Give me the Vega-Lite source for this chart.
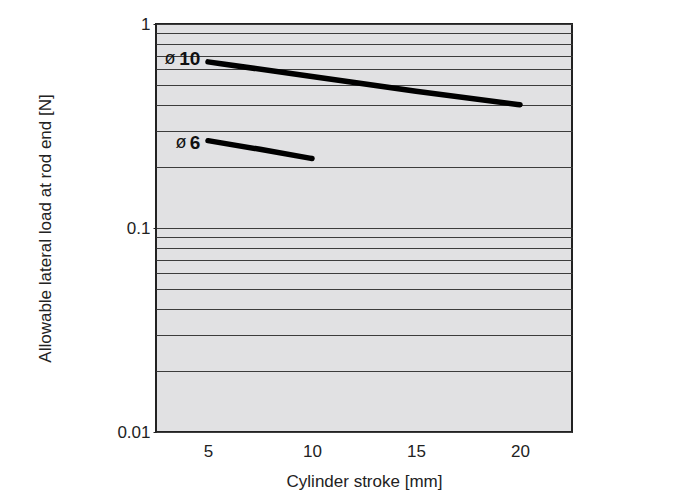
{
  "$schema": "https://vega.github.io/schema/vega-lite/v6.json",
  "autosize": "none",
  "width": 416,
  "height": 408,
  "padding": {"left": 156, "top": 24, "right": 104, "bottom": 62},
  "background": "white",
  "config": {
    "view": {"fill": "#e1e1e3", "stroke": "#222222", "strokeWidth": 2},
    "font": "Liberation Sans",
    "axis": {
      "labelFont": "Liberation Sans",
      "titleFont": "Liberation Sans",
      "labelFontSize": 17,
      "titleFontSize": 17,
      "titleFontWeight": "normal",
      "labelColor": "#222222",
      "titleColor": "#222222"
    }
  },
  "datasets": {
    "curves": [
      {"series": "ø10", "stroke": 5, "load": 0.652},
      {"series": "ø10", "stroke": 10, "load": 0.553},
      {"series": "ø10", "stroke": 15, "load": 0.468},
      {"series": "ø10", "stroke": 20, "load": 0.402},
      {"series": "ø6", "stroke": 5, "load": 0.268},
      {"series": "ø6", "stroke": 7.5, "load": 0.243},
      {"series": "ø6", "stroke": 10, "load": 0.219}
    ],
    "labels": [
      {"series": "ø10", "sym": "ø", "num": "10", "stroke": 5, "load": 0.674},
      {"series": "ø6", "sym": "ø", "num": "6", "stroke": 5, "load": 0.261}
    ]
  },
  "layer": [
    {
      "data": {"name": "curves"},
      "mark": {"type": "line", "color": "black", "strokeWidth": 5.5, "strokeCap": "round", "interpolate": "monotone"},
      "encoding": {
        "x": {
          "field": "stroke", "type": "quantitative",
          "scale": {"domain": [2.5, 22.5], "nice": false, "zero": false},
          "axis": {
            "title": "Cylinder stroke [mm]",
            "values": [5, 10, 15, 20],
            "grid": false, "ticks": false, "domain": false,
            "labelPadding": 11, "titlePadding": 14
          }
        },
        "y": {
          "field": "load", "type": "quantitative",
          "scale": {"type": "log", "domain": [0.01, 1], "nice": false},
          "axis": {
            "title": "Allowable lateral load at rod end [N]",
            "values": [0.01, 0.02, 0.03, 0.04, 0.05, 0.06, 0.07, 0.08, 0.09, 0.1, 0.2, 0.3, 0.4, 0.5, 0.6, 0.7, 0.8, 0.9, 1],
            "grid": true, "gridColor": "#3c3c3c", "gridWidth": 1.2,
            "domain": false,
            "tickSize": 3, "tickColor": "#222222",
            "tickOpacity": {"condition": {"test": "datum.value == 1 || datum.value == 0.1 || datum.value == 0.01", "value": 1}, "value": 0},
            "labelExpr": "datum.value == 1 ? '1' : datum.value == 0.1 ? '0.1' : datum.value == 0.01 ? '0.01' : ''",
            "labelOverlap": false,
            "labelPadding": 3,
            "titlePadding": 62
          }
        },
        "detail": {"field": "series"}
      }
    },
    {
      "data": {"name": "labels"},
      "mark": {"type": "text", "font": "Liberation Sans", "fontSize": 19, "fontWeight": "bold", "align": "right", "baseline": "middle", "dx": -7.7, "color": "#111111"},
      "encoding": {
        "x": {"field": "stroke", "type": "quantitative"},
        "y": {"field": "load", "type": "quantitative"},
        "text": {"field": "num"}
      }
    },
    {
      "data": {"name": "labels"},
      "transform": [{"filter": "datum.series == 'ø10'"}],
      "mark": {"type": "text", "font": "Liberation Sans", "fontSize": 18, "align": "right", "baseline": "middle", "dx": -32.5, "color": "#111111"},
      "encoding": {
        "x": {"field": "stroke", "type": "quantitative"},
        "y": {"field": "load", "type": "quantitative"},
        "text": {"field": "sym"}
      }
    },
    {
      "data": {"name": "labels"},
      "transform": [{"filter": "datum.series == 'ø6'"}],
      "mark": {"type": "text", "font": "Liberation Sans", "fontSize": 18, "align": "right", "baseline": "middle", "dx": -21.5, "color": "#111111"},
      "encoding": {
        "x": {"field": "stroke", "type": "quantitative"},
        "y": {"field": "load", "type": "quantitative"},
        "text": {"field": "sym"}
      }
    }
  ]
}
